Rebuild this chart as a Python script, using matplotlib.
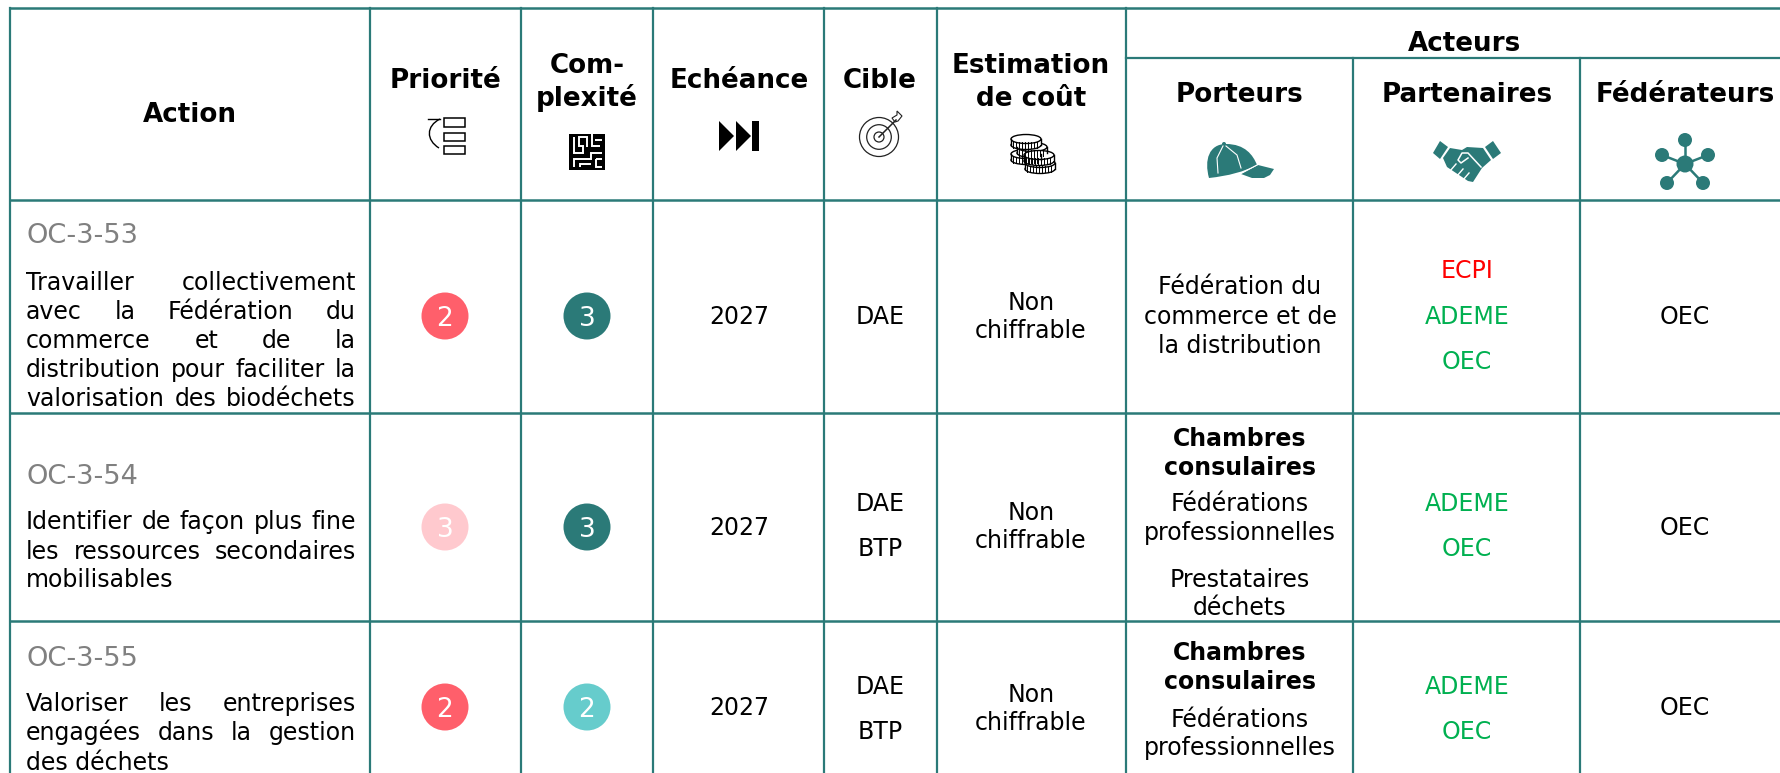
import matplotlib
matplotlib.use('Agg')
import matplotlib.pyplot as plt
from matplotlib.patches import Circle, Ellipse, Polygon, Rectangle, PathPatch
from matplotlib.path import Path

TEAL = '#2b7a78'
GREEN = '#00b050'
RED = '#ff0000'
GREY = '#808080'
FS = 17
FS_HEAD = 18.8

# table data
codes = ['OC-3-53', 'OC-3-54', 'OC-3-55']
actions = [
    ['Travailler collectivement', 'avec la Fédération du', 'commerce et de la',
     'distribution pour faciliter la', 'valorisation des biodéchets'],
    ['Identifier de façon plus fine', 'les ressources secondaires', 'mobilisables'],
    ['Valoriser les entreprises', 'engagées dans la gestion', 'des déchets'],
]
priorities = [2, 3, 2]
complexities = [3, 3, 2]
years = ['2027', '2027', '2027']
cibles = [['DAE'], ['DAE', 'BTP'], ['DAE', 'BTP']]
couts = ['Non\nchiffrable'] * 3
partenaires = [
    [('ECPI', RED), ('ADEME', GREEN), ('OEC', GREEN)],
    [('ADEME', GREEN), ('OEC', GREEN)],
    [('ADEME', GREEN), ('OEC', GREEN)],
]
federateurs = ['OEC', 'OEC', 'OEC']
prio_colors = {2: '#ff5f6b', 3: '#ffc9ce'}
comp_colors = {2: '#66cccc', 3: TEAL}

# layout, in image pixels
col_x = [10, 370, 521, 653, 824, 937, 1126, 1353, 1580]
centers = [445, 587, 739, 880, 1031, 1240, 1467, 1685]
code_y = [234, 475, 657]
line_y = [[282, 311, 340, 369, 398], [521, 551, 579], [703, 732, 762]]
row_mid = [316, 527, 707]
list_y = [[270, 316, 361], [503, 548], [686, 731]]
cout_y = [316, 526, 708]

fig = plt.figure(figsize=(17.8, 7.73), dpi=100)
ax = fig.add_axes([0, 0, 1, 1])
ax.set_xlim(0, 1780)
ax.set_ylim(773, 0)
ax.axis('off')


def txt(x, y, s, color='black', size=FS, weight='normal', ha='center', **kw):
    # baseline anchor, so words of one line stay level whatever their letters
    return ax.text(x, y + 0.33 * size * 100 / 72, s, color=color, fontsize=size, fontweight=weight, ha=ha,
                   va='baseline', family='DejaVu Sans', **kw)


def justified(line, y, left=26, right=356):
    # spread the words over the full cell width like a justified paragraph
    words = line.split()
    r = fig.canvas.get_renderer()
    inv = ax.transData.inverted()
    items = [txt(left, y, w, ha='left') for w in words]
    widths = []
    for t in items:
        bb = t.get_window_extent(r)
        widths.append(inv.transform((bb.x1, 0))[0] - inv.transform((bb.x0, 0))[0])
    gap = (right - left - sum(widths)) / (len(words) - 1)
    x = left
    for t, w in zip(items, widths):
        t.set_x(x)
        x += w + gap


def badge(x, y, val, color):
    ax.add_patch(Circle((x, y), 23.5, color=color, lw=0))
    txt(x, y + 1, str(val), color='white', size=19)


def icon_priority():
    for y0, h in [(118, 9), (133, 8), (146, 8)]:
        ax.add_patch(Rectangle((444, y0), 21, h, fc='white', ec='black', lw=1.1))
    p = Path([(440, 119), (426, 126), (426, 140), (439, 148)],
             [Path.MOVETO, Path.CURVE4, Path.CURVE4, Path.CURVE4])
    ax.add_patch(PathPatch(p, fc='none', ec='black', lw=1))
    ax.plot([428, 440], [119, 119], color='black', lw=1)


def icon_maze():
    x0, y0 = 569, 134
    ax.add_patch(Rectangle((x0, y0), 36, 36, color='black', lw=0))
    channels = [[(5, 3), (5, 19), (14, 19), (14, 12), (10, 12), (10, 3), (18, 3), (18, 13)],
                [(23, 0), (23, 12), (31, 12)], [(26, 6), (33, 6)],
                [(5, 33), (5, 25), (22, 25), (22, 19), (33, 19)],
                [(11, 33), (11, 30), (22, 30)], [(27, 25), (33, 25)], [(33, 33), (27, 33), (27, 25)]]
    for c in channels:
        ax.plot([x0 + p[0] for p in c], [y0 + p[1] for p in c], color='white', lw=1.4,
                solid_capstyle='butt', solid_joinstyle='miter')


def icon_forward():
    ax.add_patch(Polygon([(719, 121), (734, 136), (719, 151)], color='black', lw=0))
    ax.add_patch(Polygon([(736, 121), (751, 136), (736, 151)], color='black', lw=0))
    ax.add_patch(Rectangle((752, 121), 7, 30, color='black', lw=0))


def icon_target():
    for r in [19.5, 12.3, 5]:
        ax.add_patch(Circle((879, 137), r, fc='white', ec='#222222', lw=0.9))
    ax.plot([879, 896], [137, 120], color='#222222', lw=1.1)
    ax.add_patch(Polygon([(892, 118), (897, 115), (897, 111), (902, 116), (898, 121), (895, 122)],
                         fc='white', ec='#222222', lw=0.8))


def coin(x, y):
    ax.add_patch(Polygon([(x - 15, y), (x + 15, y), (x + 15, y + 6), (x - 15, y + 6)], fc='white', ec='none'))
    ax.add_patch(Ellipse((x, y + 6), 30, 9, fc='white', ec='black', lw=1))
    ax.add_patch(Rectangle((x - 15, y), 30, 6, fc='white', ec='none'))
    for dx in range(-13, 14, 3):
        ax.plot([x + dx, x + dx], [y + 3, y + 9], color='black', lw=0.7)
    ax.plot([x - 15, x - 15], [y, y + 6], color='black', lw=1)
    ax.plot([x + 15, x + 15], [y, y + 6], color='black', lw=1)
    ax.add_patch(Ellipse((x, y), 30, 9, fc='white', ec='black', lw=1))


def icon_coins():
    for x, y in [(1026, 154), (1032, 147), (1026, 139), (1040, 163), (1039, 155)]:
        coin(x, y)


def icon_cap():
    crown = Path([(1209, 178), (1204, 160), (1209, 144), (1226, 144), (1245, 144), (1253, 155), (1257, 165),
                  (1238, 175), (1209, 178), (1209, 178)],
                 [Path.MOVETO, Path.CURVE4, Path.CURVE4, Path.CURVE4, Path.CURVE4, Path.CURVE4, Path.CURVE4,
                  Path.CURVE3, Path.CURVE3, Path.CLOSEPOLY])
    ax.add_patch(PathPatch(crown, fc=TEAL, ec='none'))
    ax.add_patch(Polygon([(1241, 174), (1258, 165), (1274, 169), (1270, 175), (1264, 178), (1252, 178)],
                         color=TEAL, lw=0))
    ax.add_patch(Circle((1224, 144), 2, color=TEAL, lw=0))
    ax.plot([1218, 1217, 1223], [173, 158, 146], color='white', lw=0.8)
    ax.plot([1241, 1237, 1226], [168, 155, 146], color='white', lw=0.8)
    ax.plot([1238, 1257], [175, 165], color='white', lw=0.8)


def icon_handshake():
    ax.add_patch(Polygon([(1440, 141), (1448, 147), (1440, 159), (1433, 153)], color=TEAL, lw=0))
    ax.add_patch(Polygon([(1493, 141), (1501, 153), (1493, 159), (1485, 147)], color=TEAL, lw=0))
    ax.add_patch(Polygon([(1450, 148), (1462, 150), (1467, 147), (1483, 148), (1491, 160), (1482, 168),
                          (1473, 182), (1468, 181), (1447, 167), (1443, 158)], color=TEAL, lw=0))
    ax.plot([1481, 1468, 1462, 1458, 1461, 1468], [167, 153, 153, 160, 163, 158], color='white', lw=1.1)
    for a, b in [((1450, 171), (1456, 164)), ((1457, 176), (1463, 169)), ((1463, 180), (1469, 173))]:
        ax.plot([a[0], b[0]], [a[1], b[1]], color='white', lw=1)


def icon_network():
    cx, cy = 1685, 164
    for x, y in [(1685, 140), (1662, 155), (1708, 155), (1667, 183), (1703, 183)]:
        ax.plot([cx, x], [cy, y], color=TEAL, lw=1.8)
        ax.add_patch(Ellipse((x, y), 14, 14, color=TEAL, lw=0))
    ax.add_patch(Circle((cx, cy), 8.5, color=TEAL, lw=0))


# grid
for x in col_x[:7]:
    ax.plot([x, x], [8, 773], color=TEAL, lw=1.6)
for x in col_x[7:]:
    ax.plot([x, x], [58, 773], color=TEAL, lw=1.6)
ax.plot([10, 1780], [8, 8], color=TEAL, lw=1.8)
ax.plot([1126, 1780], [58, 58], color=TEAL, lw=1.6)
for y in [200, 413, 621]:
    ax.plot([10, 1780], [y, y], color=TEAL, lw=1.8)

# header
txt(190, 113, 'Action', weight='bold', size=FS_HEAD)
txt(445, 79, 'Priorité', weight='bold', size=FS_HEAD)
txt(587, 64, 'Com-', weight='bold', size=FS_HEAD)
txt(587, 97, 'plexité', weight='bold', size=FS_HEAD)
txt(739, 79, 'Echéance', weight='bold', size=FS_HEAD)
txt(880, 79, 'Cible', weight='bold', size=FS_HEAD)
txt(1031, 64, 'Estimation', weight='bold', size=FS_HEAD)
txt(1031, 97, 'de coût', weight='bold', size=FS_HEAD)
txt(1464, 42, 'Acteurs', weight='bold', size=FS_HEAD)
txt(1240, 93, 'Porteurs', weight='bold', size=FS_HEAD)
txt(1467, 93, 'Partenaires', weight='bold', size=FS_HEAD)
txt(1685, 93, 'Fédérateurs', weight='bold', size=FS_HEAD)

icon_priority()
icon_maze()
icon_forward()
icon_target()
icon_coins()
icon_cap()
icon_handshake()
icon_network()

# body rows
fig.canvas.draw()
for i in range(3):
    txt(26, code_y[i], codes[i], color=GREY, ha='left', size=19.6)
    n = len(actions[i])
    for j, line in enumerate(actions[i]):
        last = j == n - 1 and i > 0
        if last:
            txt(26, line_y[i][j], line, ha='left')
        else:
            justified(line, line_y[i][j])
    badge(centers[0], row_mid[i], priorities[i], prio_colors[priorities[i]])
    badge(centers[1], row_mid[i], complexities[i], comp_colors[complexities[i]])
    txt(centers[2], row_mid[i], years[i])
    if len(cibles[i]) == 1:
        txt(centers[3], row_mid[i], cibles[i][0])
    else:
        for y, c in zip(list_y[i], cibles[i]):
            txt(centers[3], y, c)
    a, b = couts[i].split('\n')
    txt(centers[4], cout_y[i] - 14, a)
    txt(centers[4], cout_y[i] + 14, b)
    for y, (name, col) in zip(list_y[i], partenaires[i]):
        txt(centers[6], y, name, color=col)
    txt(centers[7], row_mid[i], federateurs[i])

# porteurs cells
for y, s in zip([286, 316, 345], ['Fédération du', 'commerce et de', 'la distribution']):
    txt(centers[5], y, s)
for y, s, w in [(438, 'Chambres', 'bold'), (467, 'consulaires', 'bold'),
                (503, 'Fédérations', 'normal'), (532, 'professionnelles', 'normal'),
                (579, 'Prestataires', 'normal'), (607, 'déchets', 'normal'),
                (652, 'Chambres', 'bold'), (681, 'consulaires', 'bold'),
                (719, 'Fédérations', 'normal'), (747, 'professionnelles', 'normal')]:
    txt(centers[5], y, s, weight=w)

fig.savefig('out.png', dpi=100)
